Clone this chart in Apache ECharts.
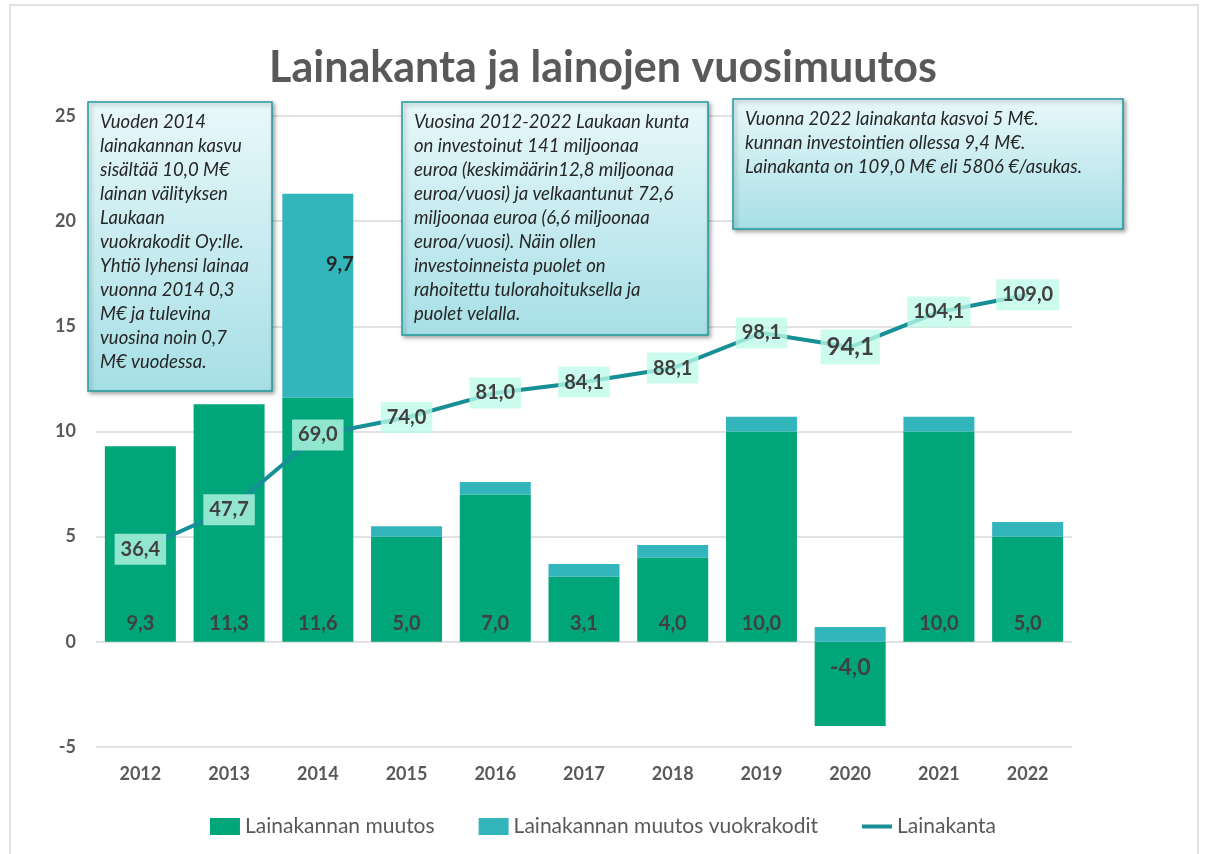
<!DOCTYPE html>
<html>
<head>
<meta charset="utf-8">
<script src="https://cdn.jsdelivr.net/npm/echarts@6/dist/echarts.min.js"></script>
<style>
  html, body { margin: 0; padding: 0; background: #fff; }
  #chart { width: 1206px; height: 854px; }
</style>
</head>
<body>
<div id="chart"></div>
<script>
// vuodet
var years = ['2012', '2013', '2014', '2015', '2016', '2017', '2018', '2019', '2020', '2021', '2022']
// lainakannan muutos (M€)
var muutos = [9.3, 11.3, 11.6, 5.0, 7.0, 3.1, 4.0, 10.0, -4.0, 10.0, 5.0]
// vuokrakodit-osuus (M€)
var vuokrakodit = [0, 0, 9.7, 0.5, 0.6, 0.6, 0.6, 0.7, 0.7, 0.7, 0.7]
// lainakanta (M€), oikea piilotettu akseli
var lainakanta = [36.4, 47.7, 69.0, 74.0, 81.0, 84.1, 88.1, 98.1, 94.1, 104.1, 109.0]
var yTicks = [-5, 0, 5, 10, 15, 20, 25]

var FONT = 'Lato, "Open Sans", sans-serif'
var fmt = function (v) { return v.toFixed(1).replace('.', ',') }

var note1 = ['Vuoden 2014', 'lainakannan kasvu', 'sisältää 10,0 M€', 'lainan välityksen', 'Laukaan',
  'vuokrakodit Oy:lle.', 'Yhtiö lyhensi lainaa', 'vuonna 2014 0,3', 'M€ ja tulevina',
  'vuosina noin 0,7', 'M€ vuodessa.']
var note2 = ['Vuosina 2012-2022 Laukaan kunta', 'on investoinut 141 miljoonaa',
  'euroa (keskimäärin12,8 miljoonaa', 'euroa/vuosi) ja velkaantunut 72,6',
  'miljoonaa euroa (6,6 miljoonaa', 'euroa/vuosi). Näin ollen', 'investoinneista puolet on',
  'rahoitettu tulorahoituksella ja', 'puolet velalla.']
var note3 = ['Vuonna 2022 lainakanta kasvoi 5 M€.', 'kunnan investointien ollessa 9,4 M€.',
  'Lainakanta on 109,0 M€ eli 5806 €/asukas.']

function noteBox(x, y, w, h, lines) {
  return {
    type: 'group',
    children: [
      {
        type: 'rect',
        z: 100,
        shape: { x: x, y: y, width: w, height: h },
        style: {
          fill: new echarts.graphic.LinearGradient(0, 0, 0, 1, [
            { offset: 0, color: '#e9f8fa' },
            { offset: 1, color: '#a6dfe6' },
          ]),
          stroke: '#1f9a9e',
          lineWidth: 1.5,
          shadowBlur: 4,
          shadowOffsetX: 2,
          shadowOffsetY: 2,
          shadowColor: 'rgba(0,0,0,0.35)',
        },
      },
      {
        type: 'text',
        z: 101,
        x: x + 12,
        y: y + 8,
        style: {
          text: lines.join('\n'),
          font: 'italic 18.5px ' + FONT,
          fill: '#262626',
          lineHeight: 24,
          verticalAlign: 'top',
        },
      },
    ],
  }
}

var chart = echarts.init(document.getElementById('chart'))
var option = {
  backgroundColor: '#fff',
  animation: false,
  title: {
    text: 'Lainakanta ja lainojen vuosimuutos',
    left: 'center',
    top: 42,
    textStyle: { fontFamily: FONT, fontSize: 43, fontWeight: 'bold', color: '#595959' },
  },
  legend: {
    bottom: 12,
    left: 'center',
    itemWidth: 30,
    itemHeight: 17,
    itemGap: 44,
    textStyle: { fontFamily: FONT, fontSize: 21, color: '#595959' },
    data: [
      { name: 'Lainakannan muutos', icon: 'rect' },
      { name: 'Lainakannan muutos vuokrakodit', icon: 'rect' },
      { name: 'Lainakanta', icon: 'path://M0,0 L30,0 L30,4 L0,4 Z' },
    ],
  },
  grid: { left: 96, right: 134, top: 116, bottom: 107 },
  xAxis: {
    type: 'category',
    data: years,
    axisLine: { show: false },
    axisTick: { show: false },
    axisLabel: { margin: 18, fontFamily: FONT, fontSize: 18, fontWeight: 'bold', color: '#595959' },
  },
  yAxis: [
    {
      type: 'value',
      min: yTicks[0],
      max: yTicks[yTicks.length - 1],
      interval: 5,
      axisLine: { show: false },
      axisTick: { show: false },
      splitLine: { lineStyle: { color: '#d9d9d9', width: 1.5 } },
      axisLabel: { margin: 20, fontFamily: FONT, fontSize: 18, fontWeight: 'bold', color: '#595959' },
    },
    {
      type: 'value',
      min: -20,
      max: 160,
      show: false,
      splitLine: { show: false },
    },
  ],
  series: [
    {
      name: 'Lainakannan muutos',
      type: 'bar',
      stack: 'a',
      barCategoryGap: '20%',
      itemStyle: { color: '#00a57a' },
      label: {
        show: true,
        position: 'insideBottom',
        distance: 8,
        fontFamily: FONT,
        fontSize: 20,
        fontWeight: 'bold',
        color: '#404040',
        formatter: function (p) { return fmt(p.value) },
      },
      data: muutos.map(function (v) {
        if (v < 0) {
          return { value: v, label: { position: 'insideTop', distance: 14, fontSize: 23 } }
        }
        return v
      }),
    },
    {
      name: 'Lainakannan muutos vuokrakodit',
      type: 'bar',
      stack: 'a',
      itemStyle: { color: '#33b5bc' },
      data: vuokrakodit.map(function (v, i) {
        if (v > 5) {
          return {
            value: v,
            label: {
              show: true,
              position: 'inside',
              offset: [22, -31],
              fontFamily: FONT,
              fontSize: 20,
              fontWeight: 'bold',
              color: '#262626',
              formatter: function (p) { return fmt(p.value) },
            },
          }
        }
        return v
      }),
    },
    {
      name: 'Lainakanta',
      type: 'line',
      yAxisIndex: 1,
      z: 5,
      symbol: 'circle',
      symbolSize: 0.1,
      showSymbol: true,
      lineStyle: { color: '#168f96', width: 4 },
      itemStyle: { color: '#168f96' },
      label: {
        show: true,
        position: 'inside',
        fontFamily: FONT,
        fontSize: 20,
        fontWeight: 'bold',
        color: '#404040',
        backgroundColor: 'rgba(189,251,231,0.77)',
        padding: [6, 6, 5, 6],
        formatter: function (p) { return fmt(p.value) },
      },
      data: lainakanta.map(function (v, i) {
        if (i === 8) return { value: v, label: { fontSize: 24 } }
        return v
      }),
    },
  ],
  graphic: [
    {
      type: 'rect',
      z: -1,
      shape: { x: 10, y: 5, width: 1188, height: 870 },
      style: { fill: 'none', stroke: '#d9d9d9', lineWidth: 1.5 },
    },
    noteBox(88, 102, 184, 289, note1),
    noteBox(402, 102, 306, 233, note2),
    noteBox(733, 99, 390, 130, note3),
  ],
}
option && chart.setOption(option)
</script>
</body>
</html>
